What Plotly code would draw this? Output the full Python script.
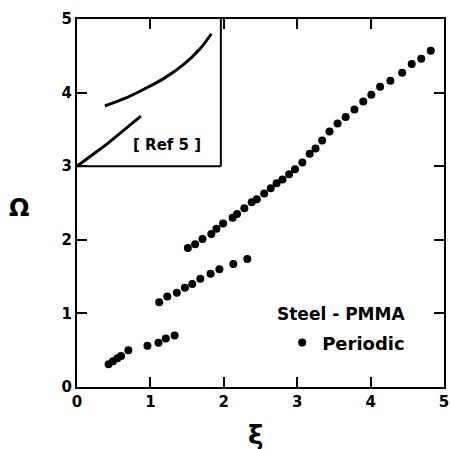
import plotly.graph_objects as go

# ---- data ----
# Periodic Steel-PMMA branches (xi, Omega)
branch1_x = [0.43, 0.49, 0.55, 0.60, 0.70, 0.96, 1.11, 1.21, 1.33]
branch1_y = [0.31, 0.35, 0.39, 0.42, 0.50, 0.56, 0.60, 0.66, 0.70]

branch2_x = [1.12, 1.23, 1.36, 1.47, 1.57, 1.68, 1.82, 1.94, 2.13, 2.32]
branch2_y = [1.15, 1.23, 1.28, 1.35, 1.40, 1.47, 1.54, 1.60, 1.67, 1.74]

branch3_x = [1.51, 1.61, 1.71, 1.83, 1.90, 1.99, 2.12, 2.18, 2.28, 2.38,
             2.45, 2.55, 2.64, 2.72, 2.80, 2.89, 2.97, 3.07, 3.17, 3.25,
             3.34, 3.44, 3.55, 3.66, 3.78, 3.90, 4.01, 4.13, 4.27, 4.43,
             4.56, 4.69, 4.82]
branch3_y = [1.89, 1.94, 2.01, 2.08, 2.15, 2.22, 2.30, 2.35, 2.43, 2.51,
             2.55, 2.63, 2.70, 2.77, 2.82, 2.89, 2.96, 3.05, 3.17, 3.24,
             3.35, 3.47, 3.58, 3.67, 3.77, 3.88, 3.97, 4.08, 4.16, 4.27,
             4.39, 4.46, 4.57]

# Inset [Ref 5] curves
ref_low_x = [0.00, 0.42, 0.87]
ref_low_y = [3.00, 3.31, 3.68]
ref_up_x = [0.38, 0.65, 0.92, 1.18, 1.45, 1.68, 1.83]
ref_up_y = [3.82, 3.92, 4.05, 4.19, 4.38, 4.60, 4.80]

x_ticks = [0, 1, 2, 3, 4, 5]
y_ticks = [0, 1, 2, 3, 4, 5]

FONT = "DejaVu Sans"

px_all = branch1_x + [None] + branch2_x + [None] + branch3_x
py_all = branch1_y + [None] + branch2_y + [None] + branch3_y

fig = go.Figure()

fig.add_trace(go.Scatter(
    x=ref_low_x, y=ref_low_y, mode="lines",
    line=dict(color="black", width=3), showlegend=False, hoverinfo="skip"))
fig.add_trace(go.Scatter(
    x=ref_up_x, y=ref_up_y, mode="lines", line_shape="spline",
    line=dict(color="black", width=3), showlegend=False, hoverinfo="skip"))

fig.add_trace(go.Scatter(
    x=px_all, y=py_all, mode="markers", name="Periodic",
    marker=dict(color="black", size=8), showlegend=True))

# inset frame
fig.add_shape(type="line", xref="x", yref="y", x0=0, y0=3, x1=1.96, y1=3,
              line=dict(color="black", width=2))
fig.add_shape(type="line", xref="x", yref="y", x0=1.96, y0=3, x1=1.96, y1=5,
              line=dict(color="black", width=2))

fig.add_annotation(x=1.22, y=3.29, xref="x", yref="y", text="[ Ref 5 ]",
                   showarrow=False,
                   font=dict(family=FONT, size=15, color="black", weight="bold"))

fig.add_annotation(x=3.59, y=0.99, xref="x", yref="y", text="Steel - PMMA",
                   showarrow=False, xanchor="center", yanchor="middle",
                   font=dict(family=FONT, size=17, color="black", weight="bold"))

# axis symbols
fig.add_annotation(x=-0.159, y=0.486, xref="paper", yref="paper", text="Ω",
                   showarrow=False, xanchor="center", yanchor="middle",
                   font=dict(family=FONT, size=24, color="black", weight="bold"))
fig.add_annotation(x=0.487, y=-0.130, xref="paper", yref="paper", text="ξ",
                   showarrow=False, xanchor="center", yanchor="middle",
                   font=dict(family=FONT, size=26, color="black", weight="bold"))

axis_common = dict(
    showline=True, linecolor="black", linewidth=2, mirror="allticks",
    ticks="inside", ticklen=10, tickwidth=2, tickcolor="black",
    showgrid=False, zeroline=False, ticklabeloverflow="allow",
    tickfont=dict(family=FONT, size=15, color="black", weight="bold"),
)

fig.update_xaxes(range=[0, 5], tickvals=x_ticks, ticktext=[str(v) for v in x_ticks],
                 **axis_common)
fig.update_yaxes(range=[0, 5], tickvals=y_ticks, ticktext=[str(v) for v in y_ticks],
                 **axis_common)

fig.update_layout(
    width=450, height=449,
    margin=dict(l=77, r=1, t=19, b=62),
    paper_bgcolor="white", plot_bgcolor="white",
    showlegend=True,
    legend=dict(
        x=0.559, y=0.12, xanchor="left", yanchor="middle",
        bgcolor="rgba(0,0,0,0)",
        font=dict(family=FONT, size=18, color="black", weight="bold"),
        itemwidth=30,
    ),
)

fig.write_html("out.html", config={"displayModeBar": False},
               post_script="document.body.style.margin='0';document.body.style.padding='0';")
